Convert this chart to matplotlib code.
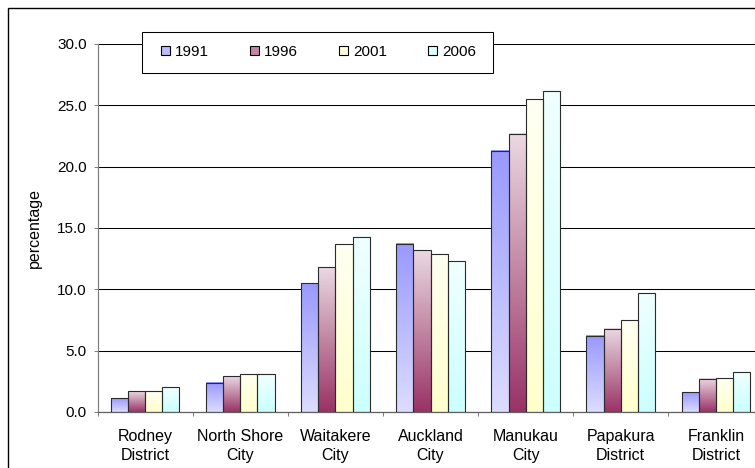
"""Share of population by Auckland territorial authority, census years 1991-2006."""

import matplotlib.pyplot as plt
import numpy as np
from matplotlib.colors import to_rgb
from matplotlib.patches import Patch, Rectangle

plt.rcParams["font.family"] = ["Liberation Sans", "DejaVu Sans"]

districts = [
    "Rodney\nDistrict",
    "North Shore\nCity",
    "Waitakere\nCity",
    "Auckland\nCity",
    "Manukau\nCity",
    "Papakura\nDistrict",
    "Franklin\nDistrict",
]
years = ["1991", "1996", "2001", "2006"]

pct_1991 = [1.1, 2.4, 10.5, 13.7, 21.3, 6.2, 1.6]
pct_1996 = [1.7, 2.9, 11.8, 13.2, 22.7, 6.8, 2.7]
pct_2001 = [1.7, 3.1, 13.7, 12.9, 25.5, 7.5, 2.8]
pct_2006 = [2.0, 3.1, 14.3, 12.3, 26.2, 9.7, 3.3]
series = [pct_1991, pct_1996, pct_2001, pct_2006]

# (top colour, bottom colour) of the vertical fill gradient for each year
gradients = [
    ("#9999ff", "#dcdcff"),
    ("#ead8e2", "#993366"),
    ("#fffff2", "#ffffcc"),
    ("#f0ffff", "#ccffff"),
]

W, H = 755, 468
fig = plt.figure(figsize=(W / 100, H / 100), dpi=100)
ax = fig.add_axes([0.1294, 0.1197, 0.8817, 0.7863])

# outer chart-area border
fig.patches.append(Rectangle((8 / W, -0.1), 2.0, 1.083, transform=fig.transFigure,
                             fill=False, edgecolor="black", lw=1.0, zorder=0))

x = np.arange(len(districts)) + 0.5
bar_w = 0.18


def gradient_image(top, bottom, n=64):
    t = np.linspace(0, 1, n)[:, None]
    c_top = np.array(to_rgb(top))
    c_bot = np.array(to_rgb(bottom))
    return (c_bot * (1 - t) + c_top * t)[:, None, :]


for j, (vals, (top, bottom)) in enumerate(zip(series, gradients)):
    bars = ax.bar(x + (j - 1.5) * bar_w, vals, width=bar_w, facecolor="none",
                  edgecolor="#2b2b2b", lw=0.8, zorder=3)
    img = gradient_image(top, bottom)
    for rect in bars:
        x0 = rect.get_x()
        ax.imshow(img, extent=[x0, x0 + rect.get_width(), 0, rect.get_height()],
                  origin="lower", aspect="auto", interpolation="bilinear", zorder=2)

ax.set_xlim(0, len(districts))
ax.set_ylim(0, 30)
ax.set_aspect("auto")

ax.set_axisbelow(True)
ax.yaxis.grid(True, color="black", lw=0.75)
ax.set_yticks(np.arange(0, 31, 5))
ax.set_yticklabels([f"{v:.1f}" for v in np.arange(0, 31, 5)])
ax.tick_params(axis="y", direction="out", length=3, width=0.75, color="#808080",
               pad=5, labelsize=11)

ax.set_xticks(np.arange(0, len(districts) + 1))
ax.set_xticklabels([])
ax.set_xticks(x, minor=True)
ax.set_xticklabels(districts, minor=True, fontsize=11.5, linespacing=1.4)
ax.tick_params(axis="x", which="major", direction="out", length=3, width=0.75,
               color="#808080")
ax.tick_params(axis="x", which="minor", length=0, pad=12)

for side in ("top", "right"):
    ax.spines[side].set_visible(False)
ax.spines["left"].set_color("#808080")
ax.spines["bottom"].set_color("#606060")
ax.spines["left"].set_linewidth(0.9)
ax.spines["bottom"].set_linewidth(0.9)

ax.set_ylabel("percentage", fontsize=11.5)
ax.yaxis.set_label_coords(-0.0837, 0.5)

# legend box, drawn separately so its size is fixed
ax.add_patch(Rectangle((142 / W, 1 - 73 / H), 351 / W, 41 / H, transform=fig.transFigure,
                       facecolor="white", edgecolor="black", lw=0.75, zorder=4,
                       clip_on=False))

handles = []
for year, (top, bottom) in zip(years, gradients):
    mid = 0.5 * (np.array(to_rgb(top)) + np.array(to_rgb(bottom)))
    handles.append(Patch(facecolor=mid, edgecolor="black", lw=0.8, label=year))

leg = ax.legend(handles=handles, ncol=4, loc="center",
                bbox_to_anchor=((142 + 351 / 2 + 1) / W, 1 - 52 / H),
                bbox_transform=fig.transFigure, fontsize=11,
                handlelength=0.6, handleheight=0.6, handletextpad=0.3,
                columnspacing=2.7, frameon=False, borderaxespad=0)
leg.set_zorder(5)

fig.savefig("out.png", dpi=100)
